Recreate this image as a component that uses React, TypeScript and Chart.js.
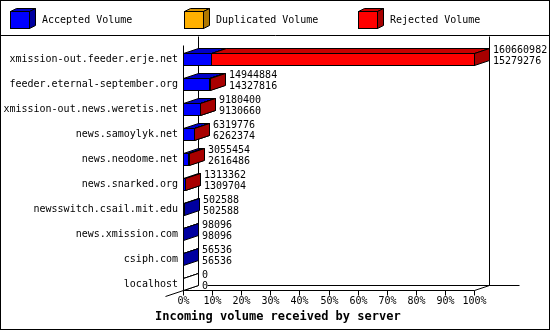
import React, { useEffect, useRef } from "react";
import { Chart, registerables } from "chart.js";

Chart.register(...registerables);

const servers = [
  "xmission-out.feeder.erje.net",
  "feeder.eternal-september.org",
  "xmission-out.news.weretis.net",
  "news.samoylyk.net",
  "news.neodome.net",
  "news.snarked.org",
  "newsswitch.csail.mit.edu",
  "news.xmission.com",
  "csiph.com",
  "localhost",
];
const offeredVolume = [160660982, 14944884, 9180400, 6319776, 3055454, 1313362, 502588, 98096, 56536, 0];
const acceptedVolume = [15279276, 14327816, 9130660, 6262374, 2616486, 1309704, 502588, 98096, 56536, 0];
const percentTicks = [0, 10, 20, 30, 40, 50, 60, 70, 80, 90, 100];
const legendLabels = ["Accepted Volume", "Duplicated Volume", "Rejected Volume"];
const axisTitle = "Incoming volume received by server";

type Face = { front: string; top: string; side: string };
const ACCEPTED: Face = { front: "#0000ff", top: "#0000c8", side: "#0000a0" };
const DUPLICATED: Face = { front: "#ffb000", top: "#d89400", side: "#b07800" };
const REJECTED: Face = { front: "#ff0000", top: "#c80000", side: "#a80000" };
const EMPTY: Face = { front: "#ffffff", top: "#ffffff", side: "#ffffff" };
const LEGEND_FACES = [ACCEPTED, DUPLICATED, REJECTED];

const DX = 15;
const DY = -5;
const FONT = "10px 'DejaVu Sans Mono', monospace";
const BOLD = "bold 12px 'DejaVu Sans Mono', monospace";

function line(ctx: CanvasRenderingContext2D, ax: number, ay: number, bx: number, by: number) {
  ctx.beginPath();
  ctx.moveTo(ax + 0.5, ay + 0.5);
  ctx.lineTo(bx + 0.5, by + 0.5);
  ctx.stroke();
}

function poly(ctx: CanvasRenderingContext2D, pts: number[][], fill: string) {
  ctx.beginPath();
  pts.forEach(([px, py], i) => (i === 0 ? ctx.moveTo(px + 0.5, py + 0.5) : ctx.lineTo(px + 0.5, py + 0.5)));
  ctx.closePath();
  ctx.fillStyle = fill;
  ctx.fill();
  ctx.stroke();
}

function drawBox(
  ctx: CanvasRenderingContext2D,
  x0: number,
  x1: number,
  y0: number,
  y1: number,
  dx: number,
  dy: number,
  c: Face
) {
  ctx.strokeStyle = "#000";
  ctx.lineWidth = 1;
  poly(ctx, [[x0, y0], [x0 + dx, y0 + dy], [x1 + dx, y0 + dy], [x1, y0]], c.top);
  poly(ctx, [[x1, y0], [x1 + dx, y0 + dy], [x1 + dx, y1 + dy], [x1, y1]], c.side);
  ctx.fillStyle = c.front;
  ctx.fillRect(x0 + 0.5, y0 + 0.5, x1 - x0, y1 - y0);
  ctx.strokeRect(x0 + 0.5, y0 + 0.5, x1 - x0, y1 - y0);
}

const plugin3d = {
  id: "gd3d",
  beforeDraw(chart: any) {
    const ctx = chart.ctx as CanvasRenderingContext2D;
    ctx.save();
    ctx.fillStyle = "#fff";
    ctx.fillRect(0, 0, chart.width, chart.height);
    ctx.restore();
  },
  afterDraw(chart: any) {
    const ctx = chart.ctx as CanvasRenderingContext2D;
    const xs = chart.scales.x;
    const ys = chart.scales.y;
    ctx.save();
    ctx.strokeStyle = "#000";
    ctx.lineWidth = 1;

    // outer border + legend separator
    ctx.strokeRect(0.5, 0.5, chart.width - 1, chart.height - 1);
    line(ctx, 0, 35, chart.width, 35);

    const x0 = Math.round(xs.getPixelForValue(0));
    const x100 = Math.round(xs.getPixelForValue(100));
    const yFront = Math.round(ys.getPixelForValue(servers.length - 1)) + 6;
    const yTop = Math.round(ys.getPixelForValue(0)) - 14;

    // frame
    line(ctx, x0, yTop, x0, yFront);
    line(ctx, x0 + DX, 36, x0 + DX, yFront + DY);
    line(ctx, x100 + DX, 36, x100 + DX, yFront + DY);
    line(ctx, x0, yFront, x100, yFront);
    line(ctx, x100, yFront, x100 + DX, yFront + DY);
    line(ctx, x0 - 18, yFront + 6, x0 + DX, yFront + DY);
    line(ctx, x0 + DX + 9, yFront + DY, x100 + DX + 30, yFront + DY);

    // ticks + labels
    ctx.font = FONT;
    ctx.fillStyle = "#000";
    ctx.textAlign = "center";
    ctx.textBaseline = "middle";
    percentTicks.forEach((t) => {
      const px = Math.round(xs.getPixelForValue(t));
      line(ctx, px, yFront, px, yFront + 5);
      ctx.fillText(t + "%", px + 0.5, yFront + 11);
    });

    // bars
    const metaA = chart.getDatasetMeta(0);
    const metaR = chart.getDatasetMeta(1);
    servers.forEach((name, i) => {
      const ea = metaA.data[i];
      const er = metaR.data[i];
      const cy = Math.round(ea.y);
      const y0 = cy - 6;
      const y1 = cy + 6;
      const base = Math.round(ea.base);
      const aEnd = Math.round(ea.x);
      const rEnd = Math.round(er.x);
      if (acceptedVolume[i] > 0) drawBox(ctx, base, aEnd, y0, y1, DX, DY, ACCEPTED);
      if (offeredVolume[i] - acceptedVolume[i] > 0) drawBox(ctx, aEnd, rEnd, y0, y1, DX, DY, REJECTED);
      if (offeredVolume[i] === 0) drawBox(ctx, base, base, y0, y1, DX, DY, EMPTY);

      // category label
      ctx.fillStyle = "#000";
      ctx.font = FONT;
      ctx.textAlign = "right";
      ctx.textBaseline = "middle";
      ctx.fillText(name, x0 - 5, cy + 0.5);

      // value labels
      ctx.textAlign = "left";
      const tx = rEnd + DX + 4;
      ctx.fillText(String(offeredVolume[i]), tx, cy - 9);
      ctx.fillText(String(acceptedVolume[i]), tx, cy + 2);
    });

    // axis title
    ctx.font = BOLD;
    ctx.textAlign = "left";
    ctx.textBaseline = "middle";
    ctx.fillText(axisTitle, 155, 317);

    // legend
    const legendX = [10, 184, 358];
    ctx.font = FONT;
    legendLabels.forEach((lab, k) => {
      drawBox(ctx, legendX[k], legendX[k] + 19, 11, 28, 6, -3, LEGEND_FACES[k]);
      ctx.fillStyle = "#000";
      ctx.textAlign = "left";
      ctx.textBaseline = "middle";
      ctx.fillText(lab, legendX[k] + 32, 20);
    });

    ctx.restore();
  },
};

export default function App() {
  const ref = useRef<HTMLCanvasElement>(null);
  useEffect(() => {
    const canvas = ref.current!;
    const maxV = Math.max(...offeredVolume);
    const acceptedPct = acceptedVolume.map((v) => (v / maxV) * 100);
    const rejectedPct = offeredVolume.map((v, i) => ((v - acceptedVolume[i]) / maxV) * 100);
    const chart = new Chart(canvas, {
      type: "bar",
      data: {
        labels: servers,
        datasets: [
          {
            label: legendLabels[0],
            data: acceptedPct,
            backgroundColor: "rgba(0,0,0,0)",
            borderWidth: 0,
            barThickness: 12,
          },
          {
            label: legendLabels[2],
            data: rejectedPct,
            backgroundColor: "rgba(0,0,0,0)",
            borderWidth: 0,
            barThickness: 12,
          },
        ],
      },
      options: {
        indexAxis: "y",
        responsive: false,
        animation: false,
        devicePixelRatio: 1,
        layout: { padding: { left: 183, right: 76, top: 46.5, bottom: 33.5 } },
        scales: {
          x: { display: false, stacked: true, min: 0, max: 100 },
          y: { display: false, stacked: true },
        },
        plugins: { legend: { display: false }, tooltip: { enabled: false } },
      },
      plugins: [plugin3d],
    } as any);
    return () => chart.destroy();
  }, []);
  return (
    <div style={{ position: "fixed", left: 0, top: 0, width: 550, height: 330, background: "#fff" }}>
      <canvas ref={ref} width={550} height={330} style={{ display: "block", width: 550, height: 330 }} />
    </div>
  );
}
